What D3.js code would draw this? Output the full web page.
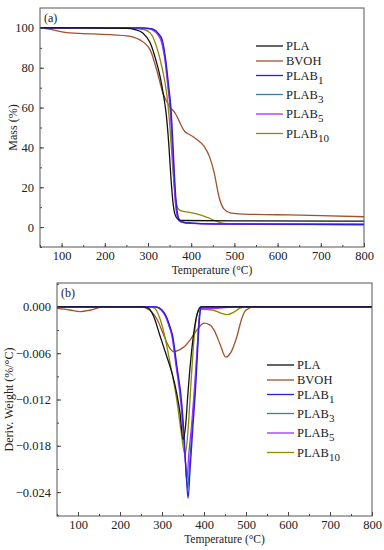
<!DOCTYPE html>
<html>
<head>
<meta charset="utf-8">
<script src="https://cdn.jsdelivr.net/npm/d3@7"></script>
<style>
  body { margin: 0; background: #fff; }
  svg text { font-family: "Liberation Serif", "DejaVu Serif", "Times New Roman", serif !important; fill: #222; }
</style>
</head>
<body>
<svg id="chart" width="384" height="550"></svg>
<script>
// series names / colours
const names = ["PLA", "BVOH", "PLAB1", "PLAB3", "PLAB5", "PLAB10"];
const colors = ["#111111", "#a0522d", "#2a1fe0", "#3f7f9a", "#9b30ff", "#8b8b00"];

// (a) TGA: [temperature, mass %]
const tgaPLA = [[50,100],[150,100],[250,99.8],[270,99.2],[288,97.5],[305,92.5],[316,85.5],[328,75.5],[336,66],[342,57],[348,42],[353,25],[358,12],[363,6],[370,3.8],[382,3.3],[500,3.1],[800,3.0]];
const tgaBVOH = [[50,100],[80,99],[112,97.6],[173,97],[251,96],[281,94],[305,89],[320,79],[335,67],[350,60.5],[362,57.5],[385,48],[400,46],[413,44],[430,40.5],[443,35],[453,27.5],[464,15.5],[476,9],[492,7],[520,6.5],[600,6.2],[700,5.8],[800,5.2]];
const tgaPLAB1 = [[50,100],[280,100],[300,99.8],[312,99.4],[325,97],[333,94],[341,84],[348,70.5],[353,60],[357,45],[361,27],[365,13],[369,6],[374,3.2],[382,2.4],[400,2],[450,1.6],[800,1.3]];
const tgaPLAB3 = [[50,100],[280,100],[300,99.7],[311,99.2],[324,96.8],[332,93.5],[340,84],[347,70.5],[352,60],[356,45],[360,27],[364,13],[368,6],[373,3.2],[382,2.4],[400,2],[450,1.6],[800,1.3]];
const tgaPLAB5 = [[50,100],[280,100],[298,99.7],[310,99],[323,96.5],[331,93],[339,84],[346,70.5],[351,60],[355,45],[359,27],[363,13],[367,6],[372,3.2],[382,2.3],[400,1.9],[450,1.5],[800,1.2]];
const tgaPLAB10 = [[50,100],[250,100],[290,99.2],[305,97.5],[320,90.5],[332,80.5],[343,67.5],[349,55],[354,40],[359,25],[364,14],[369,9.5],[375,8.3],[390,7.6],[413,6.6],[440,4.6],[460,2.8],[475,1.9],[500,1.6],[800,1.5]];

// (b) DTG: [temperature, deriv. weight %/°C]
const dtgPLA = [[50,0],[250,0],[265,-0.0001],[280,-0.0012],[295,-0.0037],[310,-0.0062],[325,-0.0088],[335,-0.0112],[343,-0.0138],[350,-0.0172],[356,-0.0155],[362,-0.011],[370,-0.006],[378,-0.0025],[386,-0.0005],[393,0],[800,0]];
const dtgBVOH = [[50,-0.0002],[80,-0.0004],[105,-0.0006],[130,-0.0004],[160,0],[250,0],[270,-0.0004],[290,-0.0018],[305,-0.0038],[318,-0.0053],[328,-0.0058],[340,-0.0056],[352,-0.0052],[368,-0.0042],[383,-0.003],[400,-0.0021],[413,-0.0023],[424,-0.003],[438,-0.0048],[452,-0.0065],[465,-0.0058],[478,-0.0039],[490,-0.0015],[500,-0.0004],[520,0],[800,0]];
const dtgPLAB1 = [[50,0],[285,0],[300,-0.0004],[310,-0.0012],[320,-0.0027],[326,-0.0039],[335,-0.0075],[347,-0.0125],[353,-0.017],[358,-0.022],[362,-0.0248],[367,-0.021],[373,-0.016],[380,-0.0105],[385,-0.0055],[389,-0.0018],[393,0],[800,0]];
const dtgPLAB3 = [[50,0],[284,0],[299,-0.0004],[309,-0.0012],[319,-0.0027],[325,-0.0039],[334,-0.0075],[346,-0.0125],[352,-0.017],[357,-0.021],[361,-0.0235],[366,-0.02],[372,-0.0155],[379,-0.0102],[384,-0.0054],[388,-0.0018],[392,0],[800,0]];
const dtgPLAB5 = [[50,0],[283,0],[298,-0.0004],[308,-0.0012],[318,-0.0027],[324,-0.0039],[333,-0.0075],[345,-0.0125],[351,-0.0165],[356,-0.0205],[359,-0.0225],[364,-0.019],[371,-0.015],[378,-0.01],[384,-0.0052],[388,-0.0017],[392,-0.0002],[420,-0.0002],[450,-0.0001],[470,0],[800,0]];
const dtgPLAB10 = [[50,0],[270,0],[283,-0.0002],[295,-0.0015],[307,-0.0039],[320,-0.0075],[335,-0.012],[345,-0.016],[355,-0.0192],[362,-0.016],[370,-0.009],[378,-0.003],[386,-0.0006],[395,-0.0003],[420,-0.0004],[440,-0.0008],[455,-0.001],[470,-0.0007],[485,-0.0002],[500,0],[800,0]];

const xTicks = [100, 200, 300, 400, 500, 600, 700, 800];
const yTicksA = [0, 20, 40, 60, 80, 100];
const yTicksB = [0, -0.006, -0.012, -0.018, -0.024];

const serif = "'Liberation Serif', 'DejaVu Serif', serif";
const svg = d3.select("#chart").attr("font-family", serif);

drawPanel({
    box: { left: 40, top: 8, right: 364, bottom: 247 },
    yDomain: [-10, 110], yTicks: yTicksA, yMinor: 10, yFmt: d3.format("d"),
    series: [tgaPLA, tgaBVOH, tgaPLAB1, tgaPLAB3, tgaPLAB5, tgaPLAB10],
    tag: "(a)", yLabel: "Mass (%)", yLabelX: 13,
    legend: { x: 256, y: 46 }
});

drawPanel({
    box: { left: 57, top: 283, right: 372, bottom: 516 },
    yDomain: [-0.0271, 0.0031], yTicks: yTicksB, yMinor: 0.003, yFmt: d3.format(".3f"),
    series: [dtgPLA, dtgBVOH, dtgPLAB1, dtgPLAB3, dtgPLAB5, dtgPLAB10],
    tag: "(b)", yLabel: "Deriv. Weight (%/°C)", yLabelX: 9,
    legend: { x: 267, y: 365 }
});

function drawPanel(cfg) {
    const b = cfg.box;
    const x = d3.scaleLinear().domain([50, 800]).range([b.left, b.right]);
    const y = d3.scaleLinear().domain(cfg.yDomain).range([b.bottom, b.top]);
    const g = svg.append("g");

    // clip so curves stay inside the frame
    const clipId = "clip" + cfg.tag.replace(/\W/g, "");
    g.append("clipPath").attr("id", clipId).append("rect")
        .attr("x", b.left).attr("y", b.top).attr("width", b.right - b.left).attr("height", b.bottom - b.top);

    const line = d3.line().x(d => x(d[0])).y(d => y(d[1])).curve(d3.curveMonotoneX);
    const order = [1, 5, 3, 4, 2, 0];
    order.forEach(i => {
        g.append("path")
            .datum(cfg.series[i])
            .attr("clip-path", `url(#${clipId})`)
            .attr("fill", "none")
            .attr("stroke", colors[i])
            .attr("stroke-width", 1.3)
            .attr("d", line);
    });

    // x axis, ticks pointing in
    const minorX = d3.range(50, 801, 50);
    g.append("g").attr("transform", `translate(0,${b.bottom})`)
        .call(d3.axisBottom(x).tickValues(minorX).tickSizeInner(-2).tickSizeOuter(0).tickFormat(""))
        .call(s => s.select(".domain").remove());
    g.append("g").attr("transform", `translate(0,${b.bottom})`)
        .call(d3.axisBottom(x).tickValues(xTicks).tickSizeInner(-4).tickSizeOuter(0).tickPadding(4))
        .call(s => s.select(".domain").remove())
        .selectAll("text").style("font-size", "12.5px").attr("fill", "#222");

    // y axis
    const lo = cfg.yDomain[0], hi = cfg.yDomain[1];
    const minorY = d3.range(Math.ceil(lo / cfg.yMinor) * cfg.yMinor, hi, cfg.yMinor);
    g.append("g").attr("transform", `translate(${b.left},0)`)
        .call(d3.axisLeft(y).tickValues(minorY).tickSizeInner(-2).tickSizeOuter(0).tickFormat(""))
        .call(s => s.select(".domain").remove());
    g.append("g").attr("transform", `translate(${b.left},0)`)
        .call(d3.axisLeft(y).tickValues(cfg.yTicks).tickSizeInner(-4).tickSizeOuter(0).tickPadding(6)
            .tickFormat(d => cfg.yFmt(d).replace("-", "\u2212")))
        .call(s => s.select(".domain").remove())
        .selectAll("text").style("font-size", "12.5px").attr("fill", "#222");
    g.selectAll(".tick line").attr("stroke", "#444");
    g.selectAll("g").attr("font-family", serif);

    // frame
    g.append("rect")
        .attr("x", b.left).attr("y", b.top)
        .attr("width", b.right - b.left).attr("height", b.bottom - b.top)
        .attr("fill", "none").attr("stroke", "#555").attr("stroke-width", 1);

    g.append("text").attr("x", b.left + 4).attr("y", b.top + 14)
        .style("font-size", "12px").text(cfg.tag);

    g.append("text")
        .attr("x", (b.left + b.right) / 2 + 10).attr("y", b.bottom + 27)
        .attr("text-anchor", "middle").style("font-size", "11.5px")
        .text("Temperature (°C)");

    g.append("text")
        .attr("transform", `translate(${cfg.yLabelX},${(b.top + b.bottom) / 2}) rotate(-90)`)
        .attr("text-anchor", "middle").attr("dy", "0.35em").style("font-size", "12px")
        .text(cfg.yLabel);

    // legend
    const rowOffsets = [0, 15, 29.5, 48.5, 68, 87.5];
    names.forEach((n, i) => {
        const ly = cfg.legend.y + rowOffsets[i];
        g.append("line")
            .attr("x1", cfg.legend.x).attr("x2", cfg.legend.x + 27)
            .attr("y1", ly).attr("y2", ly)
            .attr("stroke", colors[i]).attr("stroke-width", 1.3);
        const t = g.append("text")
            .attr("x", cfg.legend.x + 30).attr("y", ly).attr("dy", "0.35em")
            .style("font-size", "12.5px");
        const m = n.match(/^(PLAB)(\d+)$/);
        if (m) {
            t.append("tspan").text(m[1]);
            t.append("tspan").attr("dy", 4).style("font-size", "11px").text(m[2]);
        } else {
            t.text(n);
        }
    });
}
</script>
</body>
</html>
